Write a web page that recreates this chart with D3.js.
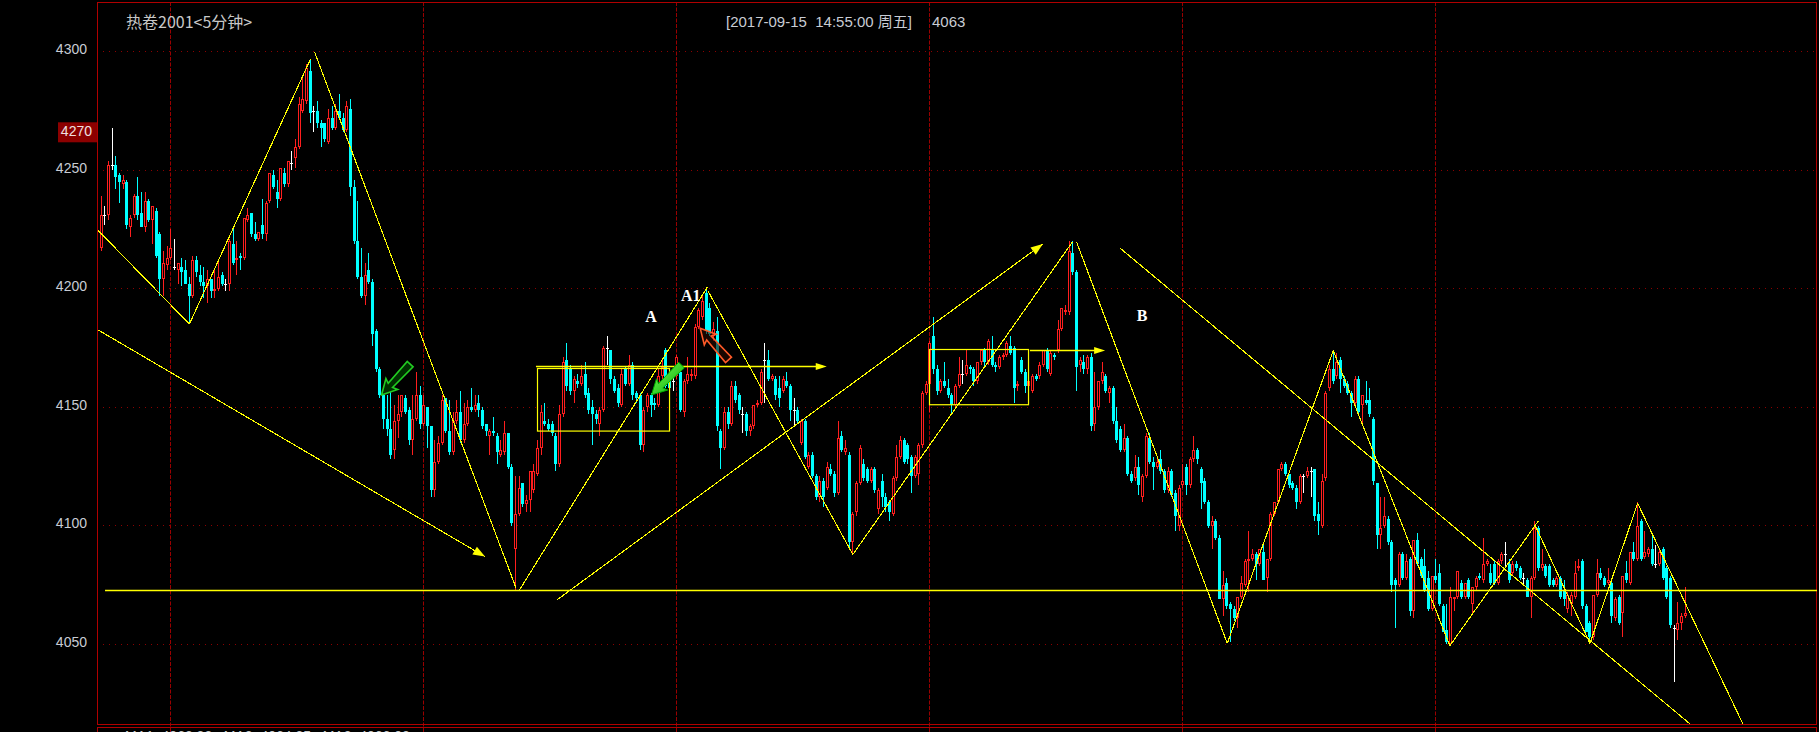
<!DOCTYPE html>
<html><head><meta charset="utf-8">
<script src="https://cdn.jsdelivr.net/npm/d3@7"></script>
<style>html,body{margin:0;padding:0;background:#000;overflow:hidden}</style>
</head><body><svg id="c" width="1819" height="732"></svg>
<script>
// ---------------- DATA ----------------
const open = [
4217,4231,4231,4252,4252,4248,4244,4245,4226,4231,
4239,4232,4226,4237,4229,4233,4223,4204,4210,4213,
4209,4208,4209,4208,4202,4197,4212,4206,4203,4201,
4204,4199,4200,4206,4202,4202,4219,4212,4214,4213,
4229,4232,4223,4221,4227,4223,4237,4248,4241,4238,
4249,4244,4253,4255,4260,4275,4279,4292,4275,4275,
4270,4270,4262,4272,4268,4275,4272,4267,4276,4243,
4220,4205,4197,4208,4203,4182,4166,4155,4145,4141,
4132,4144,4148,4154,4149,4136,4145,4155,4143,4150,
4142,4115,4127,4135,4154,4140,4131,4144,4148,4136,
4143,4150,4149,4152,4149,4143,4138,4140,4138,4130,
4131,4139,4125,4090,4105,4118,4109,4111,4115,4122,
4133,4144,4143,4143,4138,4126,4147,4170,4166,4157,
4161,4160,4164,4156,4150,4147,4143,4149,4175,4174,
4162,4158,4151,4166,4160,4168,4156,4155,4134,4150,
4155,4152,4151,4163,4174,4161,4161,4163,4165,4148,
4161,4163,4163,4184,4188,4198,4192,4180,4182,4140,
4133,4148,4143,4159,4155,4147,4147,4140,4142,4151,
4152,4170,4170,4162,4162,4158,4157,4161,4159,4149,
4149,4135,4144,4125,4130,4121,4112,4119,4116,4124,
4122,4114,4138,4131,4130,4093,4106,4118,4126,4124,
4119,4124,4107,4119,4112,4110,4105,4120,4129,4136,
4134,4129,4121,4122,4134,4156,4160,4180,4166,4157,
4161,4158,4155,4151,4159,4164,4164,4167,4166,4161,
4169,4174,4169,4174,4168,4167,4171,4172,4176,4175,
4159,4170,4165,4159,4157,4163,4163,4168,4174,4164,
4172,4174,4183,4190,4190,4215,4207,4168,4169,4166,
4171,4143,4150,4161,4163,4156,4158,4144,4141,4132,
4137,4122,4120,4125,4112,4121,4137,4127,4125,4128,
4123,4115,4123,4114,4100,4117,4125,4117,4128,4132,
4124,4119,4110,4100,4102,4095,4069,4076,4067,4065,
4061,4070,4075,4085,4086,4088,4084,4089,4078,4086,
4105,4110,4124,4126,4122,4118,4116,4110,4121,4121,
4123,4124,4105,4100,4120,4158,4166,4163,4170,4162,
4160,4156,4152,4162,4151,4153,4153,4145,4118,4096,
4100,4103,4093,4077,4075,4088,4078,4086,4064,4094,
4086,4083,4078,4065,4079,4080,4066,4056,4050,4069,
4070,4076,4070,4077,4067,4074,4079,4077,4084,4080,
4084,4076,4085,4088,4084,4080,4084,4082,4078,4077,
4070,4078,4099,4082,4083,4083,4077,4075,4078,4073,
4065,4067,4070,4082,4085,4066,4059,4053,4071,4080,
4078,4076,4076,4061,4070,4063,4080,4076,4089,4086,
4102,4087,4088,4090,4084,4084,4090,4082,4078,4057,
4056,4059,4062];
const high = [
4239,4235,4254,4268,4256,4249,4248,4246,4231,4240,
4247,4241,4241,4238,4235,4234,4224,4216,4218,4225,
4221,4211,4213,4212,4205,4214,4214,4210,4209,4208,
4204,4208,4212,4207,4204,4221,4226,4220,4215,4230,
4234,4232,4228,4224,4238,4237,4249,4250,4246,4251,
4251,4254,4258,4263,4281,4289,4295,4297,4277,4279,
4271,4270,4276,4277,4278,4282,4274,4279,4280,4246,
4237,4217,4211,4215,4204,4183,4167,4157,4155,4157,
4151,4155,4155,4155,4150,4155,4165,4159,4155,4150,
4142,4136,4138,4155,4154,4153,4148,4153,4157,4152,
4153,4158,4155,4155,4150,4143,4141,4146,4139,4136,
4144,4139,4126,4121,4121,4118,4113,4123,4126,4136,
4151,4152,4145,4144,4139,4151,4171,4177,4168,4163,
4164,4168,4169,4158,4153,4149,4150,4176,4180,4174,
4163,4160,4166,4167,4172,4169,4157,4156,4150,4156,
4156,4154,4166,4170,4175,4163,4163,4172,4166,4162,
4171,4166,4185,4192,4197,4200,4194,4186,4188,4141,
4150,4150,4161,4161,4156,4150,4148,4143,4151,4153,
4166,4177,4174,4164,4163,4163,4163,4165,4160,4154,
4150,4145,4145,4131,4131,4122,4121,4120,4127,4126,
4123,4144,4140,4136,4131,4106,4119,4134,4128,4125,
4125,4125,4116,4122,4114,4111,4121,4134,4138,4137,
4135,4130,4130,4135,4157,4161,4178,4188,4168,4162,
4169,4162,4156,4160,4171,4170,4174,4168,4167,4169,
4174,4175,4179,4180,4169,4172,4173,4178,4180,4176,
4161,4171,4166,4162,4164,4164,4169,4174,4175,4174,
4173,4187,4192,4193,4220,4220,4208,4171,4172,4172,
4173,4165,4161,4169,4164,4159,4159,4150,4142,4143,
4138,4123,4130,4129,4122,4139,4139,4129,4129,4132,
4124,4125,4124,4115,4117,4126,4126,4129,4138,4133,
4125,4120,4111,4104,4103,4096,4081,4078,4068,4066,
4070,4079,4086,4098,4090,4089,4090,4093,4086,4106,
4110,4124,4127,4127,4122,4119,4117,4122,4122,4125,
4125,4124,4110,4122,4157,4168,4174,4173,4171,4163,
4161,4157,4163,4163,4155,4161,4158,4146,4118,4112,
4112,4104,4094,4078,4089,4089,4088,4087,4094,4097,
4087,4090,4081,4079,4086,4084,4067,4067,4074,4070,
4081,4077,4076,4078,4074,4079,4080,4095,4086,4084,
4085,4086,4089,4093,4086,4085,4085,4083,4080,4078,
4079,4102,4100,4090,4084,4084,4078,4079,4079,4077,
4072,4072,4085,4086,4086,4067,4060,4071,4086,4082,
4079,4082,4077,4070,4071,4079,4085,4089,4093,4110,
4103,4098,4091,4097,4092,4090,4091,4083,4079,4058,
4068,4063,4074];
const low = [
4216,4227,4229,4250,4242,4236,4242,4225,4222,4230,
4229,4226,4224,4228,4219,4213,4197,4197,4208,4212,
4208,4202,4201,4202,4185,4196,4205,4201,4196,4194,
4196,4196,4199,4201,4199,4199,4210,4206,4208,4212,
4228,4222,4220,4220,4221,4220,4236,4242,4234,4237,
4243,4243,4250,4251,4259,4274,4278,4270,4266,4268,
4260,4262,4261,4267,4267,4271,4266,4266,4239,4219,
4204,4196,4193,4202,4176,4165,4154,4141,4138,4128,
4128,4137,4146,4147,4134,4130,4144,4141,4142,4133,
4112,4112,4126,4134,4139,4130,4130,4143,4135,4135,
4142,4148,4148,4146,4141,4138,4130,4138,4126,4129,
4130,4124,4100,4073,4104,4108,4106,4106,4114,4121,
4130,4142,4140,4138,4123,4125,4146,4157,4155,4152,
4158,4159,4154,4147,4134,4143,4138,4148,4168,4160,
4156,4150,4150,4159,4159,4153,4152,4132,4131,4148,
4146,4149,4150,4162,4158,4156,4157,4162,4148,4146,
4160,4161,4162,4183,4187,4181,4180,4178,4140,4124,
4132,4141,4142,4152,4147,4139,4138,4138,4141,4150,
4151,4152,4161,4161,4153,4150,4156,4158,4144,4142,
4143,4134,4128,4124,4120,4111,4110,4108,4115,4121,
4112,4113,4131,4130,4090,4088,4104,4117,4119,4118,
4118,4114,4105,4108,4106,4102,4104,4119,4128,4126,
4126,4114,4120,4117,4133,4155,4148,4164,4155,4156,
4158,4154,4147,4150,4158,4160,4163,4164,4159,4160,
4168,4167,4168,4167,4165,4166,4170,4171,4172,4152,
4157,4164,4156,4158,4156,4161,4162,4167,4165,4163,
4170,4173,4182,4189,4189,4206,4157,4165,4164,4164,
4140,4140,4149,4160,4156,4152,4143,4135,4131,4131,
4121,4118,4119,4113,4110,4120,4126,4115,4124,4122,
4114,4114,4112,4098,4098,4116,4113,4116,4127,4126,
4107,4109,4099,4090,4094,4069,4062,4065,4051,4060,
4057,4069,4074,4072,4085,4077,4083,4077,4072,4085,
4104,4109,4123,4121,4116,4115,4107,4109,4114,4120,
4112,4102,4096,4099,4119,4157,4160,4162,4156,4158,
4155,4146,4151,4147,4143,4151,4146,4117,4090,4090,
4099,4092,4072,4057,4074,4077,4077,4062,4061,4083,
4078,4072,4064,4064,4076,4066,4055,4050,4050,4064,
4069,4069,4069,4069,4063,4073,4077,4076,4083,4075,
4075,4075,4084,4083,4076,4079,4081,4077,4075,4070,
4061,4077,4081,4081,4078,4074,4074,4074,4069,4066,
4063,4062,4069,4081,4065,4055,4050,4052,4070,4077,
4074,4075,4059,4060,4058,4053,4076,4075,4085,4085,
4085,4086,4087,4083,4082,4083,4077,4069,4057,4034,
4052,4056,4061];
const close = [
4231,4231,4252,4252,4247,4245,4246,4227,4230,4239,
4231,4226,4237,4229,4235,4214,4204,4211,4213,4217,
4209,4211,4207,4202,4197,4212,4207,4203,4201,4204,
4199,4200,4205,4202,4202,4220,4211,4213,4213,4230,
4231,4223,4221,4224,4223,4236,4249,4243,4238,4251,
4244,4254,4253,4260,4278,4280,4293,4274,4275,4270,
4268,4263,4272,4268,4275,4272,4267,4277,4243,4220,
4205,4197,4206,4203,4181,4166,4155,4145,4141,4130,
4144,4147,4155,4148,4136,4145,4155,4143,4151,4142,
4115,4127,4135,4153,4140,4131,4144,4148,4136,4143,
4150,4149,4151,4149,4142,4140,4140,4139,4131,4132,
4139,4125,4101,4105,4116,4109,4111,4123,4123,4133,
4148,4143,4141,4139,4126,4147,4169,4159,4157,4162,
4160,4163,4155,4149,4147,4145,4149,4175,4175,4162,
4157,4152,4164,4160,4168,4155,4154,4134,4149,4155,
4151,4151,4163,4167,4159,4158,4161,4171,4149,4161,
4164,4164,4184,4191,4195,4182,4181,4183,4142,4133,
4148,4143,4159,4153,4149,4147,4140,4142,4151,4152,
4165,4170,4162,4163,4155,4154,4162,4159,4149,4149,
4144,4144,4129,4130,4121,4112,4119,4112,4125,4122,
4114,4137,4132,4133,4093,4105,4118,4133,4120,4119,
4124,4115,4115,4112,4108,4106,4120,4129,4136,4127,
4128,4121,4129,4134,4156,4160,4177,4166,4157,4161,
4159,4155,4151,4159,4164,4164,4168,4166,4161,4169,
4174,4169,4178,4168,4167,4171,4172,4177,4173,4158,
4160,4165,4159,4161,4163,4162,4168,4174,4166,4173,
4171,4183,4192,4191,4216,4207,4167,4170,4166,4171,
4142,4150,4161,4165,4157,4158,4144,4136,4132,4137,
4122,4119,4125,4117,4121,4138,4127,4125,4127,4123,
4115,4123,4113,4104,4116,4119,4117,4128,4132,4128,
4118,4110,4100,4102,4095,4069,4075,4066,4065,4061,
4070,4076,4085,4086,4088,4084,4090,4077,4086,4105,
4110,4124,4126,4122,4117,4116,4110,4121,4121,4123,
4123,4104,4102,4119,4156,4166,4161,4169,4162,4159,
4156,4152,4162,4148,4155,4152,4147,4119,4096,4099,
4104,4093,4075,4075,4088,4078,4085,4064,4094,4084,
4079,4073,4065,4079,4077,4067,4055,4051,4070,4070,
4081,4070,4076,4070,4074,4078,4078,4084,4085,4076,
4076,4085,4088,4088,4077,4084,4082,4078,4078,4070,
4078,4099,4082,4084,4079,4075,4075,4078,4070,4069,
4071,4071,4080,4083,4066,4055,4053,4071,4080,4078,
4075,4077,4062,4069,4059,4079,4077,4089,4086,4100,
4086,4089,4090,4084,4084,4089,4078,4070,4058,4057,
4059,4062,4063];

const yTicks = [4050, 4100, 4150, 4200, 4250, 4300];
const daySeparators = [19, 88, 157, 226, 295, 364];   // first bar of each session
const chartTitle = "热卷2001<5分钟>";
const cursorInfo = "[2017-09-15  14:55:00 周五]";
const cursorValue = "4063";
const markPrice = 4266, markLabel = "4270";
const lowerPanelText = "MA1: 4063.88   MA2: 4064.35   MA3: 4066.02";

// hand-drawn analysis objects (bar index, price)
const zigzag = [
  [[-1.1,4225.1],[24.1,4185.1]],
  [[24.1,4185.1],[57.1,4296.8]],
  [[58.2,4300.0],[113.1,4074.0]],
  [[114.1,4072.9],[165.3,4200.6]],
  [[165.6,4198.8],[205.0,4087.9]],
  [[205.0,4087.9],[264.9,4219.8]],
  [[266.0,4219.8],[307.1,4050.4]],
  [[307.1,4050.4],[336.0,4173.9]],
  [[336.0,4173.9],[367.8,4049.4]],
  [[367.8,4049.4],[391.9,4102.0]],
  [[391.0,4100.3],[406.0,4050.4]],
  [[406.0,4050.4],[419.0,4109.5]],
  [[419.0,4109.5],[447.7,4016.4]]
];
const supportLine = {from: 1.1, price: 4072.7};
const arrowTrends = [
  {from:[-1.1,4182.9], to:[104.7,4087.0]},
  {from:[124.3,4068.7], to:[256.8,4218.9]}
];
const plainTrend = [[277.9,4217.1],[433.3,4016.4]];
const flatArrows = [
  {from:118.6, to:197.9, price:4167.1},
  {from:253.3, to:273.8, price:4173.9}
];
const boxes = [
  {i0:119.0, i1:155.0, pTop:4166.4, pBot:4140.0},
  {i0:225.85, i1:252.85, pTop:4174.5, pBot:4151.2}
];
const marks = [
  {text:"A",  i:150.0, p:4188.4},
  {text:"A1", i:160.8, p:4197.1},
  {text:"B",  i:283.9, p:4188.7}
];
const blockArrows = [
  {tail:[84.3,4168.2],  tip:[76.5,4155.2],  kind:"greenOutline"},
  {tail:[158.3,4167.8], tip:[150.1,4155.2], kind:"greenFill"},
  {tail:[171.1,4170.0], tip:[163.4,4183.3], kind:"orangeOutline"}
];

// ---------------- DRAW ----------------
const W = 1819, H = 732;
const plot = {l:97, t:2, r:1817, b:724};
const N = close.length;
const svg = d3.select("#c");
svg.append("rect").attr("width",W).attr("height",H).attr("fill","#000");

const x = d3.scaleLinear().domain([0, N-1]).range([101, 101 + (N-1)*3.6674]);
const y = d3.scaleLinear().domain([4050, 4300]).range([644.3, 51.7]);
const px = v => Math.floor(v) + 0.5;

const defs = svg.append("defs");
defs.append("clipPath").attr("id","pc").append("rect")
  .attr("x",plot.l+1).attr("y",plot.t+1).attr("width",plot.r-plot.l-1).attr("height",plot.b-plot.t-1);
const gradG = defs.append("linearGradient").attr("id","gg").attr("x1","0").attr("y1","0").attr("x2","1").attr("y2","1");
gradG.append("stop").attr("offset","0").attr("stop-color","#7cff5a");
gradG.append("stop").attr("offset","1").attr("stop-color","#00a800");

// grid
const grid = svg.append("g");
grid.selectAll("line.h").data(yTicks).join("line")
  .attr("x1",103).attr("x2",plot.r-2)
  .attr("y1",d=>px(y(d))).attr("y2",d=>px(y(d)))
  .attr("stroke","#8c0000").attr("stroke-width",1).attr("stroke-dasharray","1,5");
grid.selectAll("line.v").data(daySeparators).join("line")
  .attr("x1",d=>px(x(d))).attr("x2",d=>px(x(d)))
  .attr("y1",plot.t).attr("y2",H)
  .attr("stroke","#9a0000").attr("stroke-width",1).attr("stroke-dasharray","4,1.5");

// frame
svg.append("rect").attr("x",plot.l+0.5).attr("y",plot.t+0.5)
  .attr("width",plot.r-plot.l-1).attr("height",plot.b-plot.t)
  .attr("fill","none").attr("stroke","#b00000").attr("stroke-width",1);
svg.append("line").attr("x1",plot.l).attr("x2",plot.r).attr("y1",727.5).attr("y2",727.5)
  .attr("stroke","#b00000");
svg.append("line").attr("x1",plot.l+0.5).attr("x2",plot.l+0.5).attr("y1",727).attr("y2",H)
  .attr("stroke","#b00000");
svg.append("line").attr("x1",plot.r-0.5).attr("x2",plot.r-0.5).attr("y1",727).attr("y2",H)
  .attr("stroke","#b00000");

// y axis labels
svg.append("g").selectAll("text").data(yTicks).join("text")
  .attr("x",87).attr("y",d=>y(d)-1).attr("text-anchor","end").attr("dominant-baseline","middle")
  .attr("font-family","Liberation Sans, Arial, sans-serif").attr("font-size",14)
  .attr("fill","#c8ccd4").text(d=>d);

// price marker
const my = y(markPrice);
svg.append("rect").attr("x",58).attr("y",my-10).attr("width",39).attr("height",20).attr("fill","#8c0000");
svg.append("text").attr("x",92).attr("y",my).attr("text-anchor","end").attr("dominant-baseline","middle")
  .attr("font-family","Liberation Sans, Arial, sans-serif").attr("font-size",14)
  .attr("fill","#f0e0e0").text(markLabel);

// header texts
svg.append("text").attr("x",126).attr("y",28).attr("font-family","Noto Sans CJK SC, sans-serif")
  .attr("font-size",16).attr("fill","#c8c8c8").text(chartTitle);
svg.append("text").attr("x",726).attr("y",27).attr("font-family","Liberation Sans, Noto Sans CJK SC, sans-serif")
  .attr("font-size",15).attr("fill","#c8ccd4").style("white-space","pre").text(cursorInfo);
svg.append("text").attr("x",932).attr("y",27).attr("font-family","Liberation Sans, Arial, sans-serif")
  .attr("font-size",15).attr("fill","#c8ccd4").text(cursorValue);
svg.append("text").attr("x",125).attr("y",741).attr("font-family","Liberation Sans, Arial, sans-serif")
  .attr("font-size",14).attr("fill","#c8c8c8").style("white-space","pre").text(lowerPanelText);

// candles
const cg = svg.append("g").attr("clip-path","url(#pc)");
const bars = d3.range(N).map(i => ({i, o:open[i], h:high[i], l:low[i], c:close[i]}));
bars.forEach(d => {
  const cx = px(x(d.i));
  const yo = Math.round(y(d.o)), yc = Math.round(y(d.c));
  const yh = Math.round(y(Math.max(d.h, d.o, d.c))), yl = Math.round(y(Math.min(d.l, d.o, d.c)));
  if (d.c > d.o) {
    const col = "#ff1e1e";
    if (yh < yc) cg.append("line").attr("x1",cx).attr("x2",cx).attr("y1",yh).attr("y2",yc).attr("stroke",col);
    if (yl > yo) cg.append("line").attr("x1",cx).attr("x2",cx).attr("y1",yo).attr("y2",yl).attr("stroke",col);
    cg.append("rect").attr("x",cx-1).attr("y",yc+0.5).attr("width",2).attr("height",Math.max(yo-yc-1,0))
      .attr("fill","#000").attr("stroke",col).attr("stroke-width",1);
  } else if (d.c < d.o) {
    const col = "#00ffff";
    cg.append("line").attr("x1",cx).attr("x2",cx).attr("y1",yh).attr("y2",yl).attr("stroke",col);
    cg.append("rect").attr("x",cx-1.5).attr("y",yo).attr("width",3).attr("height",Math.max(yc-yo,1))
      .attr("fill",col);
  } else {
    const col = "#ffffff";
    cg.append("line").attr("x1",cx).attr("x2",cx).attr("y1",yh).attr("y2",yl).attr("stroke",col);
    cg.append("line").attr("x1",cx-1.5).attr("x2",cx+1.5).attr("y1",yo+0.5).attr("y2",yo+0.5).attr("stroke",col);
  }
});

// analysis drawings
const ag = svg.append("g").attr("clip-path","url(#pc)");
const YEL = "#ffff00";
ag.selectAll("line.z").data(zigzag).join("line")
  .attr("x1",d=>x(d[0][0])).attr("y1",d=>y(d[0][1]))
  .attr("x2",d=>x(d[1][0])).attr("y2",d=>y(d[1][1]))
  .attr("stroke",YEL).attr("stroke-width",1.1).attr("shape-rendering","crispEdges");
ag.append("line").attr("x1",x(supportLine.from)).attr("x2",plot.r)
  .attr("y1",px(y(supportLine.price))).attr("y2",px(y(supportLine.price)))
  .attr("stroke",YEL).attr("stroke-width",1.3);
ag.append("line").attr("x1",x(plainTrend[0][0])).attr("y1",y(plainTrend[0][1]))
  .attr("x2",x(plainTrend[1][0])).attr("y2",y(plainTrend[1][1]))
  .attr("stroke",YEL).attr("stroke-width",1.1).attr("shape-rendering","crispEdges");

function headPath(x1,y1,x2,y2,len,half){
  const a = Math.atan2(y2-y1,x2-x1), c=Math.cos(a), s=Math.sin(a);
  const bx = x2 - len*c, by = y2 - len*s;
  return `M${x2},${y2}L${bx - half*s},${by + half*c}L${bx + half*s},${by - half*c}Z`;
}
arrowTrends.forEach(t => {
  const x1=x(t.from[0]), y1=y(t.from[1]), x2=x(t.to[0]), y2=y(t.to[1]);
  ag.append("line").attr("x1",x1).attr("y1",y1).attr("x2",x2).attr("y2",y2)
    .attr("stroke",YEL).attr("stroke-width",1.1).attr("shape-rendering","crispEdges");
  ag.append("path").attr("d",headPath(x1,y1,x2,y2,12,4.5)).attr("fill",YEL);
});
flatArrows.forEach(f => {
  const yy = px(y(f.price)), x1=x(f.from), x2=x(f.to);
  ag.append("line").attr("x1",x1).attr("x2",x2-4).attr("y1",yy).attr("y2",yy).attr("stroke",YEL).attr("stroke-width",1.5);
  ag.append("path").attr("d",headPath(x1,yy,x2,yy,11,3.5)).attr("fill",YEL);
});
ag.selectAll("rect.box").data(boxes).join("rect")
  .attr("x",d=>px(x(d.i0))).attr("y",d=>px(y(d.pTop)))
  .attr("width",d=>x(d.i1)-x(d.i0)).attr("height",d=>y(d.pBot)-y(d.pTop))
  .attr("fill","none").attr("stroke",YEL).attr("stroke-width",1.2);

ag.selectAll("text.mk").data(marks).join("text")
  .attr("x",d=>x(d.i)).attr("y",d=>y(d.p)).attr("text-anchor","middle").attr("dominant-baseline","central")
  .attr("font-family","Liberation Serif, Times New Roman, serif").attr("font-weight","bold")
  .attr("font-size",16).attr("fill","#ffffff").text(d=>d.text);

function blockArrow(tail, tip){
  const x1=x(tail[0]), y1=y(tail[1]), x2=x(tip[0]), y2=y(tip[1]);
  const L = Math.hypot(x1-x2,y1-y2);
  const ux=(x1-x2)/L, uy=(y1-y2)/L, vx=-uy, vy=ux;
  const hl=15, hw=8, sw=3;
  const P=(a,b)=>[x2+ux*a+vx*b, y2+uy*a+vy*b];
  const pts=[P(0,0),P(hl,hw),P(hl-2,sw),P(L,sw+1),P(L,-sw-1),P(hl-2,-sw),P(hl,-hw)];
  return "M"+pts.map(p=>p.join(",")).join("L")+"Z";
}
blockArrows.forEach(b => {
  const p = ag.append("path").attr("d",blockArrow(b.tail,b.tip));
  if (b.kind==="greenOutline") p.attr("fill","#003000").attr("stroke","#22cc22").attr("stroke-width",1.6);
  else if (b.kind==="greenFill") p.attr("fill","url(#gg)").attr("stroke","#00b000").attr("stroke-width",1);
  else p.attr("fill","#2a0a00").attr("fill-opacity",0.6).attr("stroke","#ff5a28").attr("stroke-width",1.6);
});
</script>
</body></html>
